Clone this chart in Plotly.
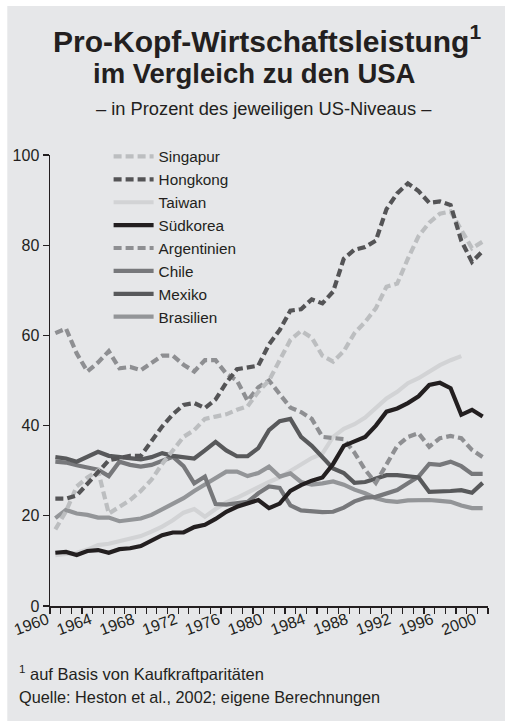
import plotly.graph_objects as go

# ---------------- data (percent of US level) ----------------
years = list(range(1960, 2001))
tick_years = list(range(1960, 2001, 4))
tick_labels = [str(y) for y in tick_years]
y_ticks = [0, 20, 40, 60, 80, 100]

singapur = [17, 21, 26.5, 28.5, 30, 20.5, 22, 23.5, 25.5, 28,
            31.5, 34.5, 37.5, 39, 41.5, 42, 42.5, 43.5, 44.3, 47.5,
            50, 54.5, 59, 61, 59.5, 55.5, 54.2, 56.5, 60.5, 63,
            66, 70.8, 71.5, 77, 82, 85, 87, 87.5, 83.4, 79.3, 80.8]
hongkong = [23.8, 23.8, 24.5, 27, 29.5, 32.3, 32.8, 33.3, 33.3, 36.5,
            39.8, 42.5, 44.6, 45, 43.9, 45.8, 49.5, 52.5, 53, 53.3,
            58, 61.2, 65.5, 65.8, 68, 67.1, 69.7, 77, 79, 79.6,
            81, 88, 91.5, 93.7, 92, 89.4, 89.7, 88.9, 81, 76.3, 78.7]
taiwan = [11.3, 11.5, 11.8, 12.5, 13.5, 13.8, 14.3, 15, 15.5, 16.5,
          17.6, 19, 20.7, 21.5, 19.8, 21.5, 23, 24, 25.2, 26.5,
          27.5, 28.5, 30, 31.5, 32.8, 33.8, 37.5, 39.3, 40.3, 41.8,
          44, 46, 47.5, 49.4, 50.5, 52, 53.4, 54.5, 55.4]
suedkorea = [11.8, 12, 11.3, 12.2, 12.4, 11.8, 12.6, 12.8, 13.3, 14.6,
             15.7, 16.3, 16.3, 17.5, 18, 19.3, 20.9, 22, 22.8, 23.5,
             21.7, 22.7, 25.5, 26.8, 27.8, 28.5, 31.5, 35.5, 36.5, 37.5,
             40, 43.1, 43.8, 45, 46.5, 49, 49.5, 48.3, 42.4, 43.5, 42]
argentinien = [60.5, 61.5, 56, 52, 54, 56.5, 52.7, 53, 52.3, 54,
               55.5, 55.5, 53.5, 52, 54.5, 54.5, 51.5, 50, 45.5, 48.5,
               50, 47, 44, 43, 41.5, 37.5, 37.3, 37, 34, 30.2,
               27.3, 31.5, 35.5, 37.5, 38.3, 35.3, 37.2, 37.7, 37.2, 34.6, 33]
chile = [32, 31.8, 31.2, 30.8, 30.2, 28.8, 32, 31.3, 30.9, 31.3,
         32.3, 33.1, 31, 27.2, 28.7, 22.6, 22.5, 22.7, 23.1, 25,
         26.5, 26.2, 22.3, 21.2, 20.9, 20.8, 20.9, 21.8, 23.2, 24,
         24.2, 25, 25.7, 27.2, 28.7, 31.5, 31.3, 32, 31, 29.3, 29.3]
mexiko = [33, 32.7, 32, 33, 34.2, 33.3, 33.1, 32.7, 32.5, 33,
          33.9, 33.3, 33, 32.7, 34.5, 36.4, 34.5, 33.2, 33.2, 35,
          39, 41, 41.5, 37.5, 35.5, 33, 30.5, 29.5, 27.3, 27.5,
          28.2, 29, 29, 28.8, 28.5, 25.3, 25.3, 25.5, 25.7, 25.1, 27.3]
brasilien = [19.5, 21.3, 20.5, 20.2, 19.6, 19.6, 18.8, 19, 19.4, 20.2,
             21.5, 22.8, 23.9, 25.5, 27, 28.3, 29.8, 29.8, 28.8, 29.5,
             30.9, 28.7, 29.4, 27.5, 26.9, 27.2, 27.6, 26.9, 25.8, 25,
             23.9, 23.3, 23.1, 23.4, 23.5, 23.5, 23.3, 23.1, 22.3, 21.7, 21.7]

# ---------------- layout geometry ----------------
W, H = 505, 722
ML, MR, MT, MB = 47, 17, 155, 116
PW, PH = W - ML - MR, H - MT - MB


def px_x(px):
    return (px - ML) / PW


def px_y(py):
    return (H - MB - py) / PH


FONT = "Liberation Sans, Arial, Helvetica, sans-serif"
TXT = "#231f20"
BG = "#e6e7e9"
DASH = "8px,4px"

# draw order (bottom -> top) with legend rank
series = [
    ("Taiwan", taiwan, "#d2d3d5", "solid", 3),
    ("Brasilien", brasilien, "#939598", "solid", 8),
    ("Chile", chile, "#77787b", "solid", 6),
    ("Mexiko", mexiko, "#58595b", "solid", 7),
    ("Argentinien", argentinien, "#8e8f92", DASH, 5),
    ("Singapur", singapur, "#bcbec0", DASH, 1),
    ("Südkorea", suedkorea, "#231f20", "solid", 4),
    ("Hongkong", hongkong, "#545456", DASH, 2),
]

fig = go.Figure()
for name, vals, color, dash, rank in series:
    fig.add_trace(go.Scatter(
        x=years[:len(vals)], y=vals, mode="lines", name=name,
        line=dict(color=color, width=4.2, dash=dash),
        legendrank=rank,
    ))

fig.update_layout(
    width=W, height=H, autosize=False,
    margin=dict(l=ML, r=MR, t=MT, b=MB, pad=0),
    paper_bgcolor="white",
    plot_bgcolor="rgba(0,0,0,0)",
    font=dict(family=FONT, color=TXT, size=15),
    showlegend=True,
    legend=dict(
        x=px_x(106), y=px_y(140), xanchor="left", yanchor="top",
        bgcolor="rgba(0,0,0,0)", font=dict(size=15.3, family=FONT, color=TXT),
        itemwidth=40, tracegroupgap=0,
    ),
    shapes=[dict(type="rect", xref="paper", yref="paper",
                 x0=px_x(4), x1=px_x(W + 2), y0=px_y(721), y1=px_y(6),
                 fillcolor=BG, line=dict(width=0), layer="below")],
    xaxis=dict(
        range=[1959.5, 2000.5], tickmode="array", tickvals=tick_years,
        ticktext=tick_labels, tickangle=-20, ticks="",
        ticklabelshift=-8, ticklabelstandoff=-3,
        showline=True, linecolor=TXT, linewidth=1.5, showgrid=False,
        zeroline=False, tickfont=dict(size=16, family=FONT, color=TXT),
        minor=dict(tickmode="linear", tick0=1959.5, dtick=1, ticks="outside",
                   ticklen=6, tickwidth=1.2, tickcolor=TXT, showgrid=False),
        fixedrange=True,
    ),
    yaxis=dict(
        range=[0, 100], tickmode="array", tickvals=y_ticks, ticks="outside",
        ticklen=6, tickwidth=1.2, tickcolor=TXT,
        showline=True, linecolor=TXT, linewidth=1.5, showgrid=False,
        zeroline=False, tickfont=dict(size=16, family=FONT, color=TXT),
        fixedrange=True,
    ),
    annotations=[
        dict(text="<b>Pro-Kopf-Wirtschaftsleistung<sup>1</sup></b>", x=px_x(265),
             y=px_y(39), xref="paper", yref="paper", showarrow=False,
             xanchor="center", yanchor="middle",
             font=dict(size=30, family=FONT, color=TXT)),
        dict(text="<b>im Vergleich zu den USA</b>", x=px_x(253),
             y=px_y(74), xref="paper", yref="paper", showarrow=False,
             xanchor="center", yanchor="middle",
             font=dict(size=27.5, family=FONT, color=TXT)),
        dict(text="– in Prozent des jeweiligen US-Niveaus –", x=px_x(262),
             y=px_y(109), xref="paper", yref="paper", showarrow=False,
             xanchor="center", yanchor="middle",
             font=dict(size=18.3, family=FONT, color=TXT)),
        dict(text="<sup>1</sup> auf Basis von Kaufkraftparitäten", x=px_x(14),
             y=px_y(673), xref="paper", yref="paper", showarrow=False,
             xanchor="left", yanchor="middle",
             font=dict(size=16.5, family=FONT, color=TXT)),
        dict(text="Quelle: Heston et al., 2002; eigene Berechnungen", x=px_x(14),
             y=px_y(697), xref="paper", yref="paper", showarrow=False,
             xanchor="left", yanchor="middle",
             font=dict(size=16.3, family=FONT, color=TXT)),
    ],
)

fig.write_html(
    "out.html",
    config={"displayModeBar": False, "staticPlot": True},
    post_script="document.body.style.margin='0';document.body.style.padding='0';",
)
